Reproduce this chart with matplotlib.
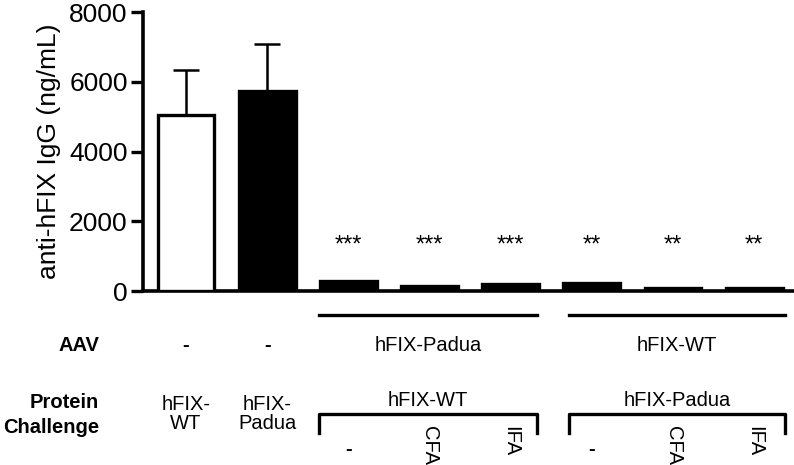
import matplotlib
matplotlib.use("Agg")
import matplotlib.pyplot as plt
import matplotlib.transforms as mtransforms

plt.rcParams['font.family'] = ['Liberation Sans', 'DejaVu Sans']

# data
values = [5050, 5750, 280, 140, 190, 220, 90, 100]
upper_err = [1280, 1330, 0, 0, 0, 0, 0, 0]
fills = ['white', 'black', 'black', 'black', 'black', 'black', 'black', 'black']
stars = ['', '', '***', '***', '***', '**', '**', '**']
aav_labels = ['-', '-']
aav_groups = ['hFIX-Padua', 'hFIX-WT']
challenge_single = ['hFIX-\nWT', 'hFIX-\nPadua']
challenge_groups = ['hFIX-WT', 'hFIX-Padua']
adjuvants = ['-', 'CFA', 'IFA']

fig = plt.figure(figsize=(7.94, 4.65), dpi=100)
ax = fig.add_axes([0.180, 0.374, 0.82, 0.600])

x = list(range(len(values)))
ax.bar(x, values, width=0.70, color=fills, edgecolor='black', linewidth=2.4, zorder=3)
ax.errorbar(x[:2], values[:2], yerr=[[0, 0], upper_err[:2]], fmt='none',
            ecolor='black', elinewidth=1.8, capsize=9.4, capthick=1.8, zorder=2)

for i, s in enumerate(stars):
    if s:
        ax.text(x[i], 1300, s, ha='center', va='center', fontsize=17)

ax.set_xlim(-0.53, 7.49)
ax.set_ylim(0, 8000)
ax.set_yticks([0, 2000, 4000, 6000, 8000])
ax.set_xticks([])
ax.tick_params(axis='y', labelsize=19, width=2.4, length=9, direction='out', pad=2)
ax.set_ylabel('anti-hFIX IgG (ng/mL)', fontsize=19, labelpad=6)
for side in ['top', 'right']:
    ax.spines[side].set_visible(False)
for side in ['left', 'bottom']:
    ax.spines[side].set_linewidth(2.6)

# annotations below the axis
trans = mtransforms.blended_transform_factory(ax.transData, fig.transFigure)
def fy(py):
    return 1 - py / 465.0

lx = -1.07
ax.text(lx, fy(345), 'AAV', transform=trans, ha='right', va='center',
        fontsize=14.5, fontweight='bold')
ax.text(lx, fy(402), 'Protein', transform=trans, ha='right', va='center',
        fontsize=14.5, fontweight='bold')
ax.text(lx, fy(427), 'Challenge', transform=trans, ha='right', va='center',
        fontsize=14.5, fontweight='bold')

for i, lab in enumerate(aav_labels):
    ax.text(x[i], fy(345), lab, transform=trans, ha='center', va='center',
            fontsize=14.5, fontweight='bold')
for i, lab in enumerate(challenge_single):
    ax.text(x[i], fy(414), lab, transform=trans, ha='center', va='center',
            fontsize=14.5, linespacing=1.05)

group_spans = [(1.64, 4.32), (4.72, 7.38)]
for (x0, x1), aav, ch in zip(group_spans, aav_groups, challenge_groups):
    ax.plot([x0, x1], [fy(315), fy(315)], transform=trans, color='black',
            linewidth=2.4, clip_on=False)
    xc = (x0 + x1) / 2
    ax.text(xc, fy(345), aav, transform=trans, ha='center', va='center', fontsize=14.5)
    ax.text(xc, fy(401), ch, transform=trans, ha='center', va='center', fontsize=14.5)
    ax.plot([x0, x0, x1, x1], [fy(433), fy(414), fy(414), fy(433)], transform=trans,
            color='black', linewidth=2.4, clip_on=False)

for g, (x0, x1) in enumerate(group_spans):
    for j, adj in enumerate(adjuvants):
        xi = 2 + 3 * g + j
        if adj == '-':
            ax.text(xi, fy(449), adj, transform=trans, ha='center', va='center',
                    fontsize=14.5, fontweight='bold')
        else:
            ax.text(xi, fy(426), adj, transform=trans, ha='center', va='top',
                    rotation=270, fontsize=14.5)

fig.savefig('out.png', dpi=100)
